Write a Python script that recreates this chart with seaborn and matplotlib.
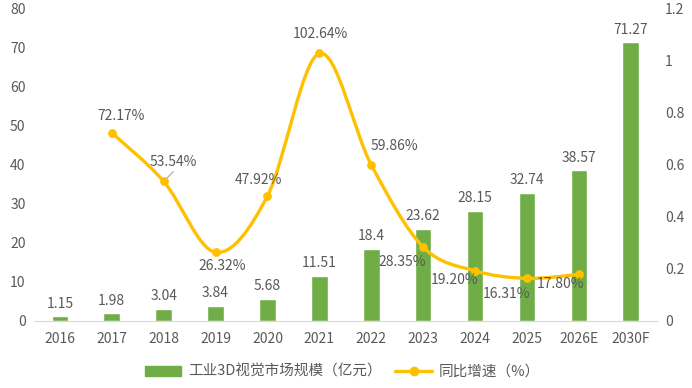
import numpy as np
import pandas as pd
import matplotlib
matplotlib.use("Agg")
import matplotlib.pyplot as plt
from matplotlib.path import Path
from matplotlib.patches import PathPatch, Patch
from matplotlib.lines import Line2D
from matplotlib.ticker import FuncFormatter
import seaborn as sns

years = ["2016", "2017", "2018", "2019", "2020", "2021", "2022", "2023",
         "2024", "2025", "2026E", "2030F"]
market_size = [1.15, 1.98, 3.04, 3.84, 5.68, 11.51, 18.4, 23.62,
               28.15, 32.74, 38.57, 71.27]
growth_years = ["2017", "2018", "2019", "2020", "2021", "2022", "2023",
                "2024", "2025", "2026E"]
growth_pct = [72.17, 53.54, 26.32, 47.92, 102.64, 59.86, 28.35,
              19.20, 16.31, 17.80]
growth_labels = ["72.17%", "53.54%", "26.32%", "47.92%", "102.64%", "59.86%",
                 "28.35%", "19.20%", "16.31%", "17.80%"]

GREEN = "#70AD47"
YELLOW = "#FFC000"
GREY = "#595959"
FS = 10

sns.set_style("white")
plt.rcParams["font.family"] = ["Noto Sans CJK SC", "DejaVu Sans"]

fig = plt.figure(figsize=(6.92, 3.88), dpi=100)
ax = fig.add_axes([0.049, 0.173, 0.9, 0.806])

df = pd.DataFrame({"year": years, "size": market_size})
sns.barplot(data=df, x="year", y="size", color=GREEN, width=0.32,
            saturation=1, ax=ax)
ax.bar_label(ax.containers[0], labels=[f"{v:g}" for v in market_size],
             padding=4, fontsize=FS, color=GREY)
ax.set_xlim(-0.5, len(years) - 0.5)
ax.set_ylim(0, 80)
ax.set_yticks(range(0, 81, 10))
ax.set_xlabel("")
ax.set_ylabel("")
ax.tick_params(axis="both", length=0, labelsize=FS, colors=GREY)
ax.tick_params(axis="x", pad=8)
ax.tick_params(axis="y", pad=6)
for s in ["top", "right", "left"]:
    ax.spines[s].set_visible(False)
ax.spines["bottom"].set_color("#D9D9D9")

ax2 = ax.twinx()
ax2.set_ylim(0, 1.2)
ax2.set_yticks(np.arange(0, 1.21, 0.2))
ax2.yaxis.set_major_formatter(FuncFormatter(lambda v, p: f"{v:.1f}".rstrip("0").rstrip(".")))
ax2.tick_params(axis="y", length=0, labelsize=FS, colors=GREY, pad=6)
for s in ["top", "right", "left", "bottom"]:
    ax2.spines[s].set_visible(False)

xs = np.array([years.index(y) for y in growth_years], dtype=float)
ys = np.array(growth_pct) / 100.0

# smoothed line (Catmull-Rom style bezier, like Excel's smoothed line)
pts = np.column_stack([xs, ys])
ext = np.vstack([pts[0], pts, pts[-1]])
verts = [tuple(pts[0])]
codes = [Path.MOVETO]
for i in range(1, len(ext) - 2):
    p0, p1, p2, p3 = ext[i - 1], ext[i], ext[i + 1], ext[i + 2]
    c1 = p1 + (p2 - p0) / 6.0
    c2 = p2 - (p3 - p1) / 6.0
    verts += [tuple(c1), tuple(c2), tuple(p2)]
    codes += [Path.CURVE4] * 3
ax2.add_patch(PathPatch(Path(verts, codes), facecolor="none", edgecolor=YELLOW,
                        lw=2.4, capstyle="round", joinstyle="round", zorder=3))
sns.scatterplot(x=xs, y=ys, color=YELLOW, s=40, edgecolor=YELLOW,
                linewidth=0, ax=ax2, zorder=4, legend=False)

offsets = [(6.5, 12), (7, 14), (5, -10), (-6.5, 11.5), (1, 14), (16.5, 13.5),
           (-15, -11), (-14.5, -6.5), (-15, -11.5), (-13, -7)]
for x, y, lab, off in zip(xs, ys, growth_labels, offsets):
    ax2.annotate(lab, (x, y), xytext=off, textcoords="offset points",
                 ha="center", va="center", fontsize=FS, color=GREY, zorder=5)
# leader line for 53.54%
ax2.annotate("", (xs[1], ys[1]), xytext=(7, 7), textcoords="offset points",
             arrowprops=dict(arrowstyle="-", color="#A6A6A6", lw=0.8,
                             shrinkA=0, shrinkB=2))

handles = [Patch(facecolor=GREEN, edgecolor=GREEN, label="工业3D视觉市场规模（亿元）"),
           Line2D([0], [0], color=YELLOW, lw=2.4, marker="o", markersize=6,
                  label="同比增速（%）")]
leg = fig.legend(handles=handles, loc="lower center", bbox_to_anchor=(0.495, -0.01),
                 ncol=2, frameon=False, fontsize=10.5, handlelength=2.5,
                 columnspacing=0.9, handletextpad=0.5)
for t in leg.get_texts():
    t.set_color(GREY)

fig.savefig("out.png", dpi=100)
